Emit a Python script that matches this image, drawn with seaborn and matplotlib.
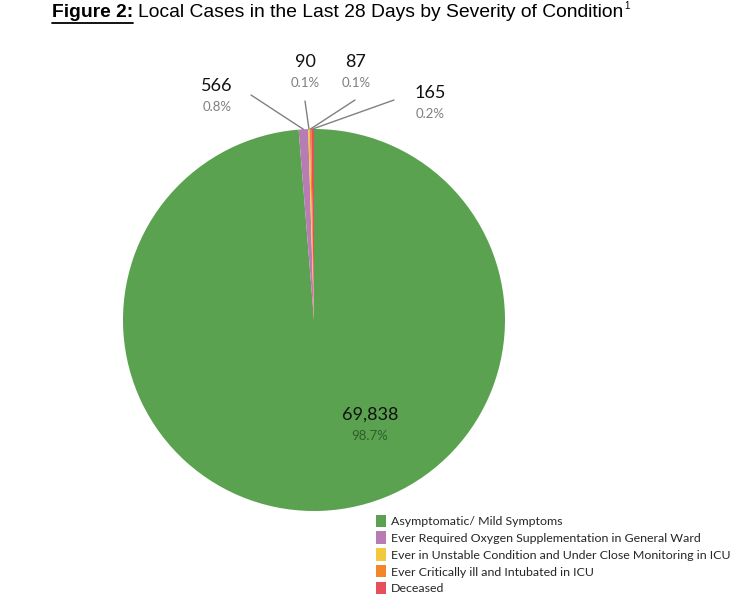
import matplotlib
matplotlib.use("Agg")
import matplotlib.pyplot as plt
import seaborn as sns
import numpy as np
from matplotlib.lines import Line2D

sns.set_theme(style="white")
plt.rcParams['font.family'] = ['Lato', 'DejaVu Sans']

categories = [
    "Asymptomatic/ Mild Symptoms",
    "Ever Required Oxygen Supplementation in General Ward",
    "Ever in Unstable Condition and Under Close Monitoring in ICU",
    "Ever Critically ill and Intubated in ICU",
    "Deceased",
]
counts = [69838, 566, 90, 87, 165]
count_labels = ["69,838", "566", "90", "87", "165"]
pct_labels = ["98.7%", "0.8%", "0.1%", "0.1%", "0.2%"]
colors = ["#5aa250", "#b67cb3", "#f2c83f", "#f4862a", "#e5505a"]

W, H = 747, 598
fig = plt.figure(figsize=(W / 100, H / 100), dpi=100)
ax = fig.add_axes([0, 0, 1, 1])

cx, cy, R = 314, H - 320, 191
wedges, _ = ax.pie(counts, colors=colors, startangle=90, counterclock=False,
                   center=(cx, cy), radius=R, frame=True,
                   wedgeprops=dict(linewidth=0))
ax.set_xlim(0, W)
ax.set_ylim(0, H)
ax.set_aspect('equal')
ax.axis('off')

# label text positions (pixel coords from top) and leader start points
label_pos = {0: (370, 415), 1: (217, 86), 2: (305, 62), 3: (356, 62), 4: (430, 93)}
leader_start = {1: (251, 95), 2: (305, 101), 3: (355, 100), 4: (394, 100)}
pct_colors = {0: '#2f5e2a'}

for i, (x, y) in label_pos.items():
    ax.text(x, H - y, count_labels[i], ha='center', va='center', fontsize=13, color='#111111')
    ax.text(x, H - y - 21, pct_labels[i], ha='center', va='center', fontsize=9.5,
            color=pct_colors.get(i, '#7f7f7f'))
    if i in leader_start:
        w = wedges[i]
        th = np.deg2rad((w.theta1 + w.theta2) / 2)
        ex, ey = cx + R * np.cos(th), cy + R * np.sin(th)
        sx, sy = leader_start[i]
        ax.plot([sx, ex], [H - sy, ey], color='#808080', lw=1.0)

leg = ax.legend(wedges, categories, loc='upper left', bbox_to_anchor=(376 / W, 1 - 516 / H),
                frameon=False, fontsize=8.9, handlelength=0.8, handleheight=0.8,
                handletextpad=0.4, labelspacing=0.47, borderpad=0, borderaxespad=0)
for h in leg.legend_handles:
    h.set_height(h.get_height() * 1.3)
    h.set_y(h.get_y() - h.get_height() * 0.12)

# title
fig.canvas.draw()
r = fig.canvas.get_renderer()
t1 = fig.text(52 / W, 1 - 17 / H, "Figure 2:", fontsize=13.9, fontweight='bold',
              family='Liberation Sans', color='black', va='baseline')
bb = t1.get_window_extent(renderer=r)
fig.add_artist(Line2D([bb.x0 / W, bb.x1 / W], [(bb.y0 - 2) / H, (bb.y0 - 2) / H],
                      color='black', lw=1.3, transform=fig.transFigure))
t2 = fig.text((bb.x1 + 5) / W, 1 - 17 / H, "Local Cases in the Last 28 Days by Severity of Condition",
              fontsize=13.9, family='Liberation Sans', color='black', va='baseline')
bb2 = t2.get_window_extent(renderer=r)
fig.text((bb2.x1 + 1) / W, 1 - 9 / H, "1", fontsize=7, family='Liberation Sans',
         color='black', va='baseline')

fig.savefig("out.png", dpi=100)
